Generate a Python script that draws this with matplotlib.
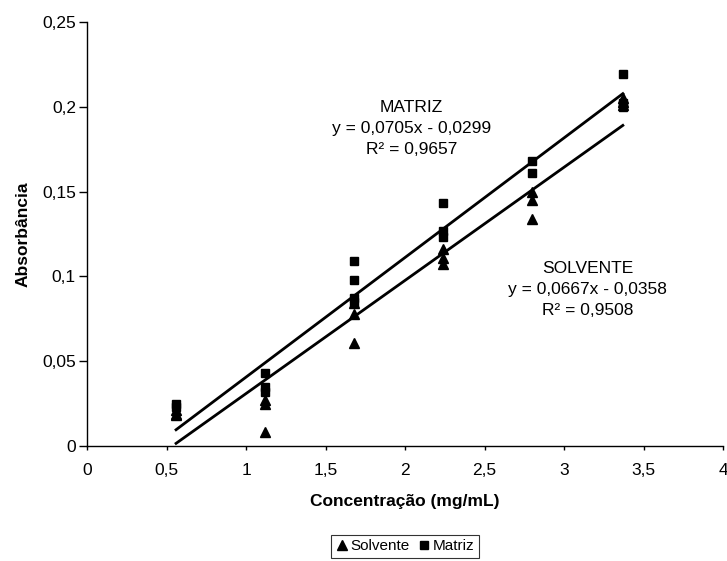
import numpy as np
from matplotlib import pyplot as plt
from matplotlib.lines import Line2D

plt.rcParams['font.family'] = ['Liberation Sans', 'DejaVu Sans']

# Solvente (triangles)
x_solv = [0.56, 0.56, 0.56, 1.12, 1.12, 1.12, 1.68, 1.68, 1.68,
          2.24, 2.24, 2.24, 2.80, 2.80, 2.80, 3.37, 3.37, 3.37]
y_solv = [0.021, 0.019, 0.018, 0.027, 0.025, 0.008, 0.084, 0.078, 0.061,
          0.116, 0.111, 0.107, 0.150, 0.145, 0.134, 0.205, 0.203, 0.201]

# Matriz (squares)
x_mat = [0.56, 0.56, 1.12, 1.12, 1.12, 1.68, 1.68, 1.68, 1.68,
         2.24, 2.24, 2.24, 2.80, 2.80, 3.37, 3.37, 3.37]
y_mat = [0.025, 0.023, 0.043, 0.035, 0.032, 0.109, 0.098, 0.087, 0.085,
         0.143, 0.127, 0.123, 0.168, 0.161, 0.219, 0.202, 0.200]

# fitted lines (slope, intercept) and range
fit_mat = (0.0705, -0.0299)
fit_solv = (0.0667, -0.0358)
fit_range = [0.56, 3.37]

x_ticks = [0, 0.5, 1, 1.5, 2, 2.5, 3, 3.5, 4]
x_ticklabels = ['0', '0,5', '1', '1,5', '2', '2,5', '3', '3,5', '4']
y_ticks = [0, 0.05, 0.1, 0.15, 0.2, 0.25]
y_ticklabels = ['0', '0,05', '0,1', '0,15', '0,2', '0,25']


def main():
    fig = plt.figure(figsize=(7.27, 5.61), dpi=100)
    ax = fig.add_axes([0.1197, 0.205, 0.8748, 0.756])

    xr = np.array(fit_range)
    ax.plot(xr, fit_mat[0] * xr + fit_mat[1], color='black', lw=2.0)
    ax.plot(xr, fit_solv[0] * xr + fit_solv[1], color='black', lw=2.0)

    ax.plot(x_solv, y_solv, linestyle='none', marker='^', color='black',
            markersize=7)
    ax.plot(x_mat, y_mat, linestyle='none', marker='s', color='black',
            markersize=6)

    ax.text(2.04, 0.187, 'MATRIZ\ny = 0,0705x - 0,0299\nR² = 0,9657',
            ha='center', va='center', fontsize=12.5, linespacing=1.5)
    ax.text(3.15, 0.092, 'SOLVENTE\ny = 0,0667x - 0,0358\nR² = 0,9508',
            ha='center', va='center', fontsize=12.5, linespacing=1.5)

    ax.set_xlim(0, 4)
    ax.set_ylim(0, 0.25)
    ax.set_xticks(x_ticks)
    ax.set_xticklabels(x_ticklabels)
    ax.set_yticks(y_ticks)
    ax.set_yticklabels(y_ticklabels)
    ax.tick_params(axis='x', direction='out', length=3, width=1,
                   labelsize=12.5, pad=9)
    ax.tick_params(axis='y', direction='out', length=6, width=1,
                   labelsize=12.5, pad=2)
    for s in ['top', 'right']:
        ax.spines[s].set_visible(False)
    ax.spines['left'].set_linewidth(1)
    ax.spines['bottom'].set_linewidth(1)

    ax.set_xlabel('Concentração (mg/mL)', fontsize=12.5, fontweight='bold',
                  labelpad=12)
    ax.set_ylabel('Absorbância', fontsize=12.5, fontweight='bold', labelpad=8)

    handles = [Line2D([], [], linestyle='none', marker='^', color='black',
                      markersize=7),
               Line2D([], [], linestyle='none', marker='s', color='black',
                      markersize=6)]
    leg = fig.legend(handles, ['Solvente', 'Matriz'], loc='center',
                     bbox_to_anchor=(0.557, 0.026), ncol=2, fontsize=11,
                     frameon=True, fancybox=False, handlelength=0.8,
                     handletextpad=0.2, columnspacing=0.5, borderpad=0.3,
                     borderaxespad=0)
    leg.get_frame().set_edgecolor('black')
    leg.get_frame().set_linewidth(0.8)

    fig.savefig('out.png', dpi=100)


if __name__ == "__main__":
    main()
